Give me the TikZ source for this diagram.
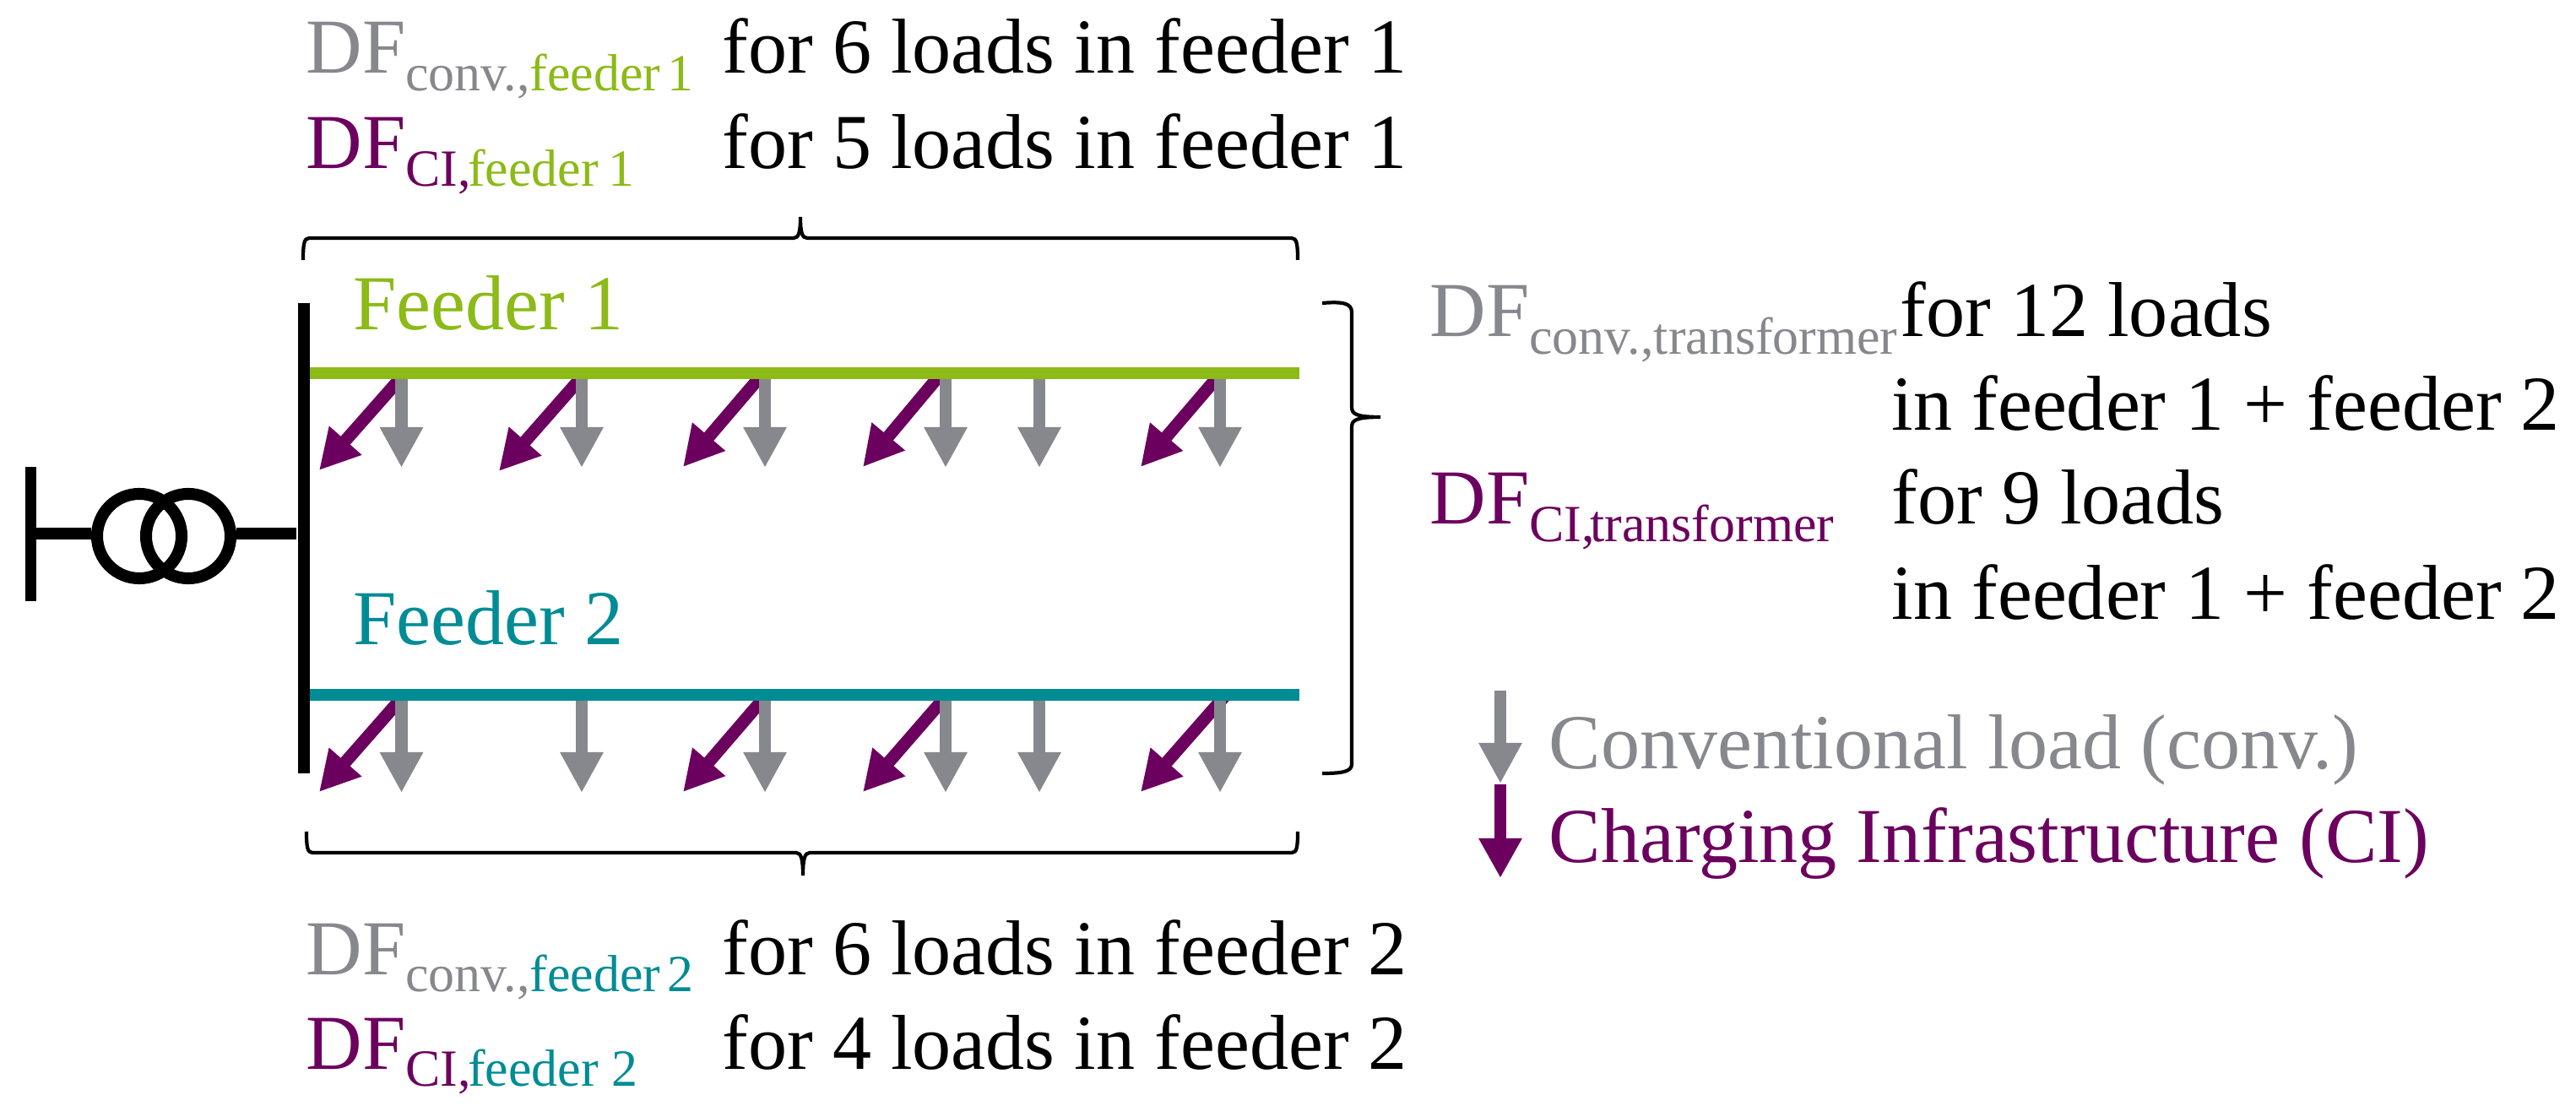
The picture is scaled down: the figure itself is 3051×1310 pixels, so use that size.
\documentclass[tikz,border=0pt]{standalone}
\usepackage{fontspec}
\setmainfont{Liberation Serif}
\usetikzlibrary{arrows.meta}
\definecolor{feederone}{HTML}{8CBA17}
\definecolor{feedertwo}{HTML}{008C95}
\definecolor{loadgrey}{HTML}{87888D}
\definecolor{cipurple}{HTML}{6C005E}
\newcommand{\subtxt}[1]{\raisebox{-5.7pt}{\fontsize{17.6pt}{20pt}\selectfont #1}}
\tikzset{
    txt/.style={inner sep=0pt,anchor=base west,font=\fontsize{26.2pt}{30pt}\selectfont},
    busline/.style={line width=4pt},
    coil/.style={circle,draw,line width=4pt,inner sep=0pt,minimum size=1cm},
    feederline/.style={line width=4.2pt},
    bracket/.style={line width=1.2pt},
    convarrow/.style={draw=loadgrey,line width=4.2pt,-{Triangle[length=13.7pt,width=13.7pt,fill=loadgrey]}},
    ciarrow/.style={draw=cipurple,line width=4.2pt,-{Triangle[length=13.4pt,width=13.7pt,fill=cipurple]}}
}
\begin{document}
\begin{tikzpicture}[x=0.01cm,y=-0.01cm]
    \useasboundingbox (0,0) rectangle (3051,1310);
    % transformer
    \coordinate (lvtop) at (36.5,553);
    \coordinate (lvbot) at (36.5,712);
    \coordinate (lv) at (36.5,632);
    \coordinate (hv) at (351,632);
    \draw[line width=3.5pt] (lvtop) -- (lvbot);
    \node[coil] (coilA) at (165,635) {};
    \node[coil] (coilB) at (223,635) {};
    \draw[busline] (lv) -- (lv -| coilA.west);
    \draw[busline] (lv -| coilB.east) -- (hv);
    % busbar
    \coordinate (bustop) at (360,359);
    \coordinate (busbot) at (360,916);
    \draw[busline] (bustop) -- (busbot);
    % loads on feeder 1
    \coordinate (fastart) at (367,442);
    \coordinate (faend) at (1539,442);
    \foreach \x/\tx/\ty [count=\i] in {479.6/378/557,693/591/558,904/809/553,1115/1022/553,1446/1351/553}{
        \coordinate (cia\i) at (\x,442);
        \coordinate (citipa\i) at (\tx,\ty);
        \draw[ciarrow] (cia\i) -- (citipa\i);
    }
    \foreach \x [count=\i] in {475.5,689,906,1120,1231,1445}{
        \coordinate (conva\i) at (\x,442);
        \coordinate (convtipa\i) at (\x,554);
        \draw[convarrow] (conva\i) -- (convtipa\i);
    }
    \draw[feederline,feederone] (fastart) -- (faend);
    % loads on feeder 2
    \coordinate (fbstart) at (367,823);
    \coordinate (fbend) at (1539,823);
    \foreach \x/\tx [count=\i] in {479/378,908/809,1122/1022,1452/1351}{
        \coordinate (cib\i) at (\x,823);
        \coordinate (citipb\i) at (\tx,938);
        \draw[ciarrow] (cib\i) -- (citipb\i);
    }
    \foreach \x [count=\i] in {475.5,689,906,1120,1231,1445}{
        \coordinate (convb\i) at (\x,823);
        \coordinate (convtipb\i) at (\x,939);
        \draw[convarrow] (convb\i) -- (convtipb\i);
    }
    \draw[feederline,feedertwo] (fbstart) -- (fbend);
    \node[txt,feederone] (labela) at (418,391) {Feeder 1};
    \node[txt,feedertwo] (labelb) at (418,764) {Feeder 2};
    % brackets
    \draw[bracket] (359,308) .. controls (359,290) and (360,282) .. (366,282) -- (940,282)
        .. controls (946,282) and (948,275) .. (948,257)
        .. controls (948,275) and (950,282) .. (956,282) -- (1530,282)
        .. controls (1536,282) and (1537,290) .. (1537,308);
    \draw[bracket] (363,985) .. controls (363,1003) and (364,1010) .. (370,1010) -- (943,1010)
        .. controls (949,1010) and (951,1018) .. (951,1037)
        .. controls (951,1018) and (953,1010) .. (959,1010) -- (1530,1010)
        .. controls (1536,1010) and (1537,1003) .. (1537,985);
    \draw[bracket] (1566,359) .. controls (1590,357) and (1601,359) .. (1601,370) -- (1601,482)
        .. controls (1601,490) and (1605,494) .. (1635,494)
        .. controls (1605,494) and (1601,498) .. (1601,506) -- (1601,905)
        .. controls (1601,914) and (1590,916) .. (1566,916);
    % top text
    \node[txt] (dfconva) at (362,87) {\textcolor{loadgrey}{DF\subtxt{conv.,}}\textcolor{feederone}{\subtxt{feeder\kern-2pt\ 1}}};
    \node[txt] (forconva) at (855,87) {for 6 loads in feeder 1};
    \node[txt] (dfcia) at (362,200) {\textcolor{cipurple}{DF\subtxt{CI,\kern-1pt}}\textcolor{feederone}{\subtxt{feeder\kern-1pt\ 1}}};
    \node[txt] (forcia) at (855,200) {for 5 loads in feeder 1};
    % bottom text
    \node[txt] (dfconvb) at (362,1154) {\textcolor{loadgrey}{DF\subtxt{conv.,}}\textcolor{feedertwo}{\subtxt{feeder\kern-2pt\ 2}}};
    \node[txt] (forconvb) at (855,1154) {for 6 loads in feeder 2};
    \node[txt] (dfcib) at (362,1266) {\textcolor{cipurple}{DF\subtxt{CI,\kern-1pt}}\textcolor{feedertwo}{\subtxt{feeder 2}}};
    \node[txt] (forcib) at (855,1266) {for 4 loads in feeder 2};
    % right text
    \node[txt] (dfconvt) at (1693,399) {\textcolor{loadgrey}{DF\subtxt{conv.,transformer}}};
    \node[txt] (forconvt) at (2250,399) {for 12 loads};
    \node[txt] (inconvt) at (2240,510) {in feeder 1 + feeder 2};
    \node[txt] (dfcit) at (1693,621) {\textcolor{cipurple}{DF\subtxt{CI,\kern-1.5pt transformer}}};
    \node[txt] (forcit) at (2240,621) {for 9 loads};
    \node[txt] (incit) at (2240,734) {in feeder 1 + feeder 2};
    % legend
    \coordinate (legconv) at (1777,818);
    \coordinate (legconvtip) at (1777,928);
    \coordinate (legci) at (1777,929);
    \coordinate (legcitip) at (1777,1040);
    \draw[convarrow] (legconv) -- (legconvtip);
    \draw[ciarrow] (legci) -- (legcitip);
    \node[txt,loadgrey] (legconvtxt) at (1834,911) {Conventional load (conv.)};
    \node[txt,cipurple] (legcitxt) at (1834,1022) {Charging Infrastructure (CI)};
\end{tikzpicture}
\end{document}
